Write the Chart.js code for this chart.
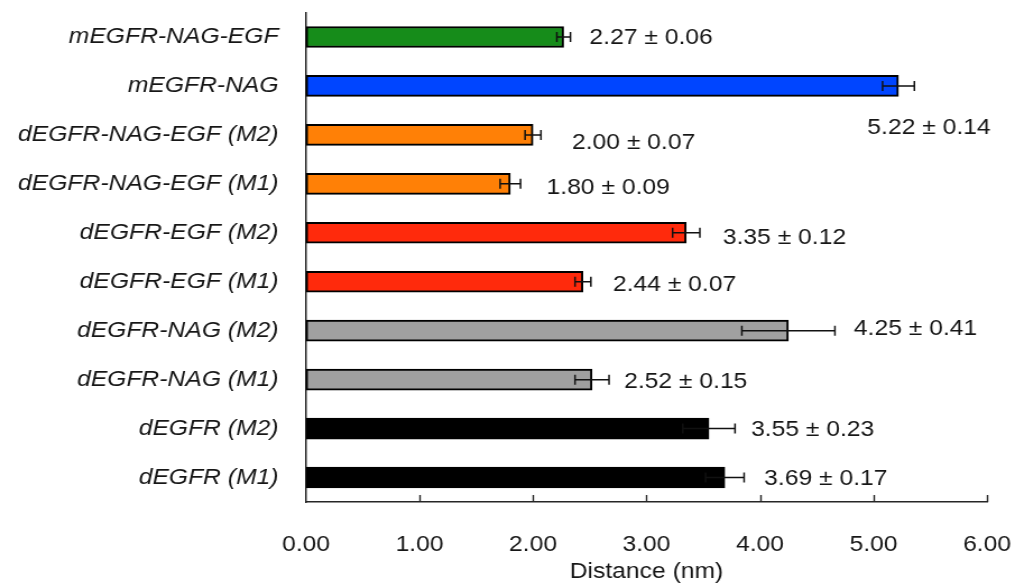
<!DOCTYPE html>
<html>
<head>
<meta charset="utf-8">
<script src="https://cdn.jsdelivr.net/npm/chart.js@4/dist/chart.umd.min.js"></script>
<style>
  html, body { margin: 0; padding: 0; background: #fff; }
  #wrap { width: 1015px; height: 584px; overflow: hidden; }
  #chart { display: block; transform-origin: 0 0; }
</style>
</head>
<body>
<div id="wrap"><canvas id="chart" width="905" height="584"></canvas></div>
<script>
// Systems, top to bottom
const categories = [
  'mEGFR-NAG-EGF',
  'mEGFR-NAG',
  'dEGFR-NAG-EGF (M2)',
  'dEGFR-NAG-EGF (M1)',
  'dEGFR-EGF (M2)',
  'dEGFR-EGF (M1)',
  'dEGFR-NAG (M2)',
  'dEGFR-NAG (M1)',
  'dEGFR (M2)',
  'dEGFR (M1)'
];
// Mean distance (nm) and its uncertainty
const distances = [2.27, 5.22, 2.00, 1.80, 3.35, 2.44, 4.25, 2.52, 3.55, 3.69];
const errors    = [0.06, 0.14, 0.07, 0.09, 0.12, 0.07, 0.41, 0.15, 0.23, 0.17];
const xTicks = [0, 1, 2, 3, 4, 5, 6];

// Bar fill colours
const barColors = ['#168c1a', '#0045ff', '#ff8006', '#ff8006', '#ff2a0c', '#ff2a0c',
                   '#a0a0a0', '#a0a0a0', '#000000', '#000000'];
// Value-label placement relative to the end of each error bar (px, final width)
const labelDx = [19, -47, 31, 26, 23, 22, 19, 15, 16, 20];
const labelDy = [1, 42, 8, 4, 5, 3, -2, 2, 1, 1];

// The figure is laid out slightly condensed, then widened to its final width
const FINAL_W = 1015;
const canvas = document.getElementById('chart');
const STRETCH = FINAL_W / canvas.width;
canvas.style.width = canvas.width + 'px';
canvas.style.height = canvas.height + 'px';
canvas.style.transform = 'scaleX(' + STRETCH + ')';

// plot frame in final pixels
const PLOT_LEFT = 306;
const PLOT_RIGHT = 987;

const FONT = "'Liberation Sans', Arial, Helvetica, sans-serif";
const TEXT = '#161616';
const AXIS = '#262626';

// fixed axis box sizes; no extra room reserved for edge labels
function fixBox(size, prop) {
  return s => {
    s[prop] = size;
    s.paddingTop = 0; s.paddingBottom = 0;
    s.paddingLeft = 0; s.paddingRight = 0;
  };
}

const errorBarsAndLabels = {
  id: 'errorBarsAndLabels',
  afterDatasetsDraw(chart) {
    const ctx = chart.ctx;
    const xs = chart.scales.x;
    const meta = chart.getDatasetMeta(0);
    ctx.save();
    // inward tick marks on the distance axis
    const yAxis = chart.chartArea.bottom;
    ctx.strokeStyle = AXIS;
    ctx.lineWidth = 1.4;
    xTicks.forEach(t => {
      if (t === 0) return;
      const px = Math.round(xs.getPixelForValue(t)) + 0.5;
      ctx.beginPath();
      ctx.moveTo(px, yAxis);
      ctx.lineTo(px, yAxis - 7);
      ctx.stroke();
    });
    // error bars and value labels
    meta.data.forEach((bar, i) => {
      const v = distances[i], e = errors[i];
      const x1 = xs.getPixelForValue(v - e);
      const x2 = xs.getPixelForValue(v + e);
      const y = bar.y;
      ctx.strokeStyle = '#111';
      ctx.lineWidth = 1.5;
      ctx.beginPath();
      ctx.moveTo(x1, y); ctx.lineTo(x2, y);
      ctx.moveTo(x1, y - 5); ctx.lineTo(x1, y + 5);
      ctx.moveTo(x2, y - 5); ctx.lineTo(x2, y + 5);
      ctx.stroke();

      ctx.fillStyle = TEXT;
      ctx.font = '22px ' + FONT;
      ctx.textAlign = 'left';
      ctx.textBaseline = 'middle';
      const txt = v.toFixed(2) + ' \u00b1 ' + e.toFixed(2);
      ctx.fillText(txt, x2 + labelDx[i] / STRETCH, y + labelDy[i]);
    });
    ctx.restore();
  }
};

new Chart(canvas, {
  type: 'bar',
  data: {
    labels: categories,
    datasets: [{
      data: distances,
      backgroundColor: barColors,
      borderColor: '#000',
      borderWidth: 2,
      borderSkipped: false,
      barThickness: 21
    }]
  },
  options: {
    indexAxis: 'y',
    responsive: false,
    devicePixelRatio: 1,
    animation: false,
    layout: { padding: { left: 0, right: (FINAL_W - PLOT_RIGHT) / STRETCH, top: 12.5, bottom: 0 } },
    plugins: {
      legend: { display: false },
      tooltip: { enabled: false }
    },
    scales: {
      x: {
        type: 'linear',
        min: 0,
        max: 6,
        ticks: {
          stepSize: 1,
          color: TEXT,
          padding: 30,
          font: { family: FONT, size: 22 },
          callback: v => Number(v).toFixed(2)
        },
        grid: { display: false, drawTicks: false },
        border: { display: true, color: AXIS, width: 1.5 },
        title: {
          display: true,
          text: 'Distance (nm)',
          color: TEXT,
          font: { family: FONT, size: 22, lineHeight: 1.1 },
          padding: { top: 0, bottom: 0 }
        },
        afterFit: fixBox(82, 'height')
      },
      y: {
        type: 'category',
        offset: true,
        ticks: {
          color: TEXT,
          padding: 25 / STRETCH * 1.1,
          font: { family: FONT, size: 22, style: 'italic' }
        },
        grid: { display: false, drawTicks: false },
        border: { display: true, color: AXIS, width: 1.5 },
        afterFit: fixBox(PLOT_LEFT / STRETCH, 'width')
      }
    }
  },
  plugins: [errorBarsAndLabels]
});
</script>
</body>
</html>
